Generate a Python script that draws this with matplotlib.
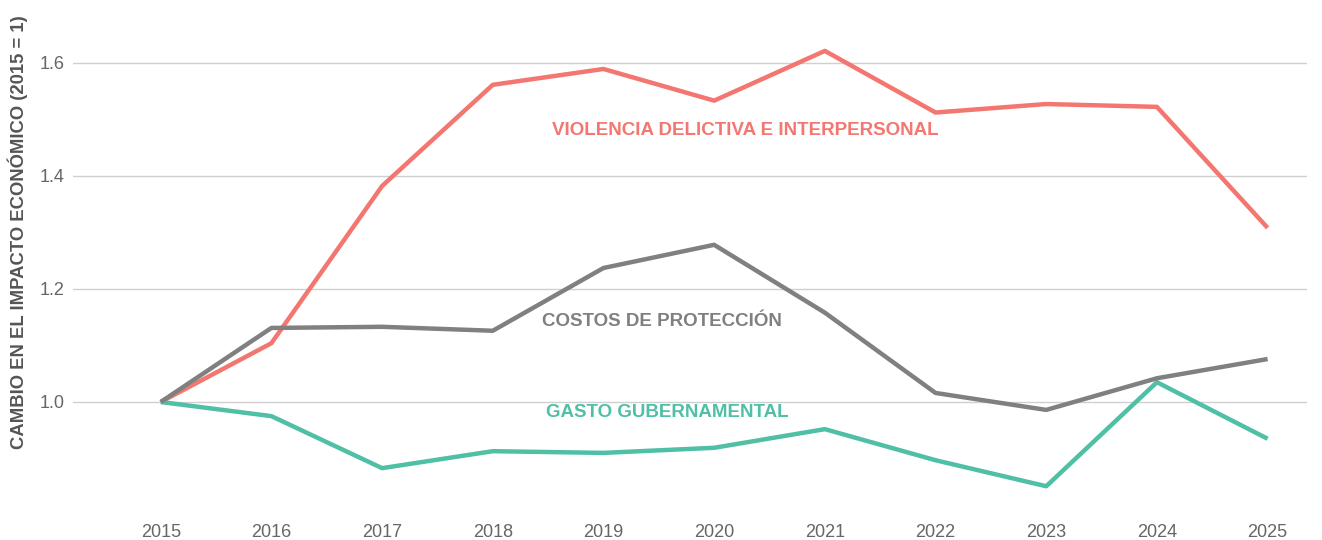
import numpy as np
import matplotlib.pyplot as plt

plt.rcParams['font.family'] = ['Liberation Sans', 'DejaVu Sans']

years = [2015, 2016, 2017, 2018, 2019, 2020, 2021, 2022, 2023, 2024, 2025]
violencia = [1.0, 1.104, 1.382, 1.561, 1.589, 1.533, 1.621, 1.512, 1.527, 1.522, 1.308]
proteccion = [1.0, 1.131, 1.133, 1.126, 1.237, 1.278, 1.158, 1.016, 0.986, 1.042, 1.076]
gasto = [1.0, 0.975, 0.883, 0.913, 0.910, 0.919, 0.952, 0.897, 0.851, 1.035, 0.935]

red = '#F47670'
gray = '#808080'
green = '#4FBFA5'

fig = plt.figure(figsize=(13.22, 5.4), dpi=100)
ax = fig.add_axes([0.055, 0.065, 0.934, 0.935])

ax.plot(years, violencia, color=red, lw=3.2, solid_capstyle='butt', zorder=3)
ax.plot(years, proteccion, color=gray, lw=3.2, solid_capstyle='butt', zorder=4)
ax.plot(years, gasto, color=green, lw=3.2, solid_capstyle='butt', zorder=3)

ax.set_xlim(2014.205, 2025.36)
ax.set_ylim(0.818, 1.711)
ax.set_yticks([1.0, 1.2, 1.4, 1.6])
ax.set_yticklabels(['1.0', '1.2', '1.4', '1.6'])
ax.set_xticks(years)
ax.grid(axis='y', color='#d0d0d0', lw=1)
ax.set_axisbelow(True)
for s in ax.spines.values():
    s.set_visible(False)
ax.tick_params(axis='both', length=0, labelsize=13, colors='#666666')
ax.tick_params(axis='x', pad=14)
ax.tick_params(axis='y', pad=6)

ax.set_ylabel('CAMBIO EN EL IMPACTO ECONÓMICO (2015 = 1)', fontsize=13.3,
              fontweight='bold', color='#555555')
ax.yaxis.set_label_coords(-0.036, 0.54)

ax.text(2020.28, 1.481, 'VIOLENCIA DELICTIVA E INTERPERSONAL', color=red,
        fontsize=13.5, fontweight='bold', ha='center', va='center')
ax.text(2019.53, 1.143, 'COSTOS DE PROTECCIÓN', color=gray,
        fontsize=13.5, fontweight='bold', ha='center', va='center')
ax.text(2019.58, 0.981, 'GASTO GUBERNAMENTAL', color=green,
        fontsize=13.5, fontweight='bold', ha='center', va='center')

fig.savefig('out.png', dpi=100)
